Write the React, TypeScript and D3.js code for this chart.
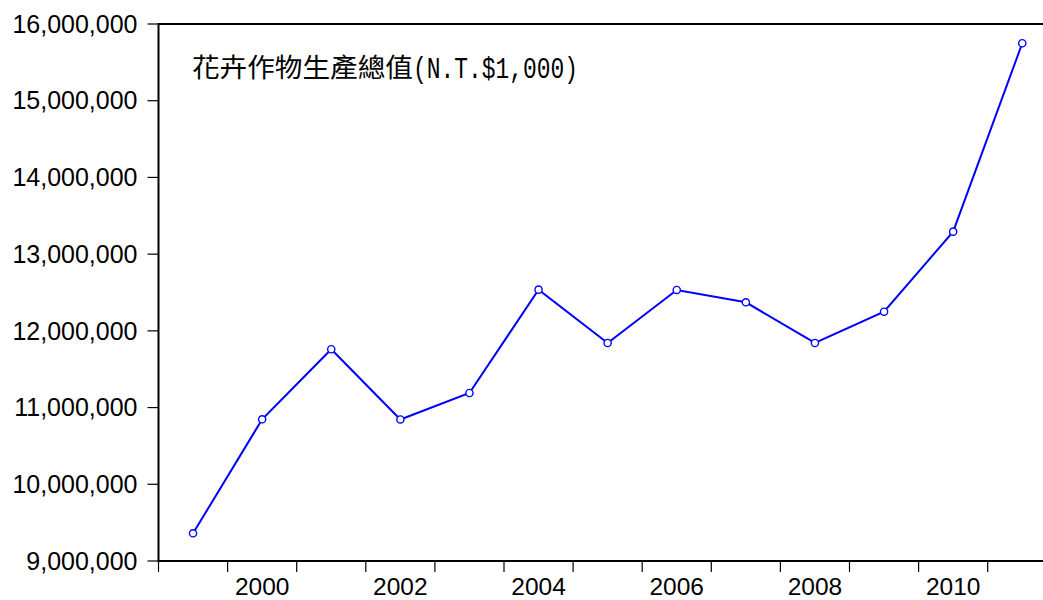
import React from 'react'
import * as d3 from 'd3'

const years = [1999, 2000, 2001, 2002, 2003, 2004, 2005, 2006, 2007, 2008, 2009, 2010, 2011]
const values = [
  9361000, 10847000, 11760000, 10845000, 11190000, 12537000, 11842000, 12533000, 12372000, 11842000,
  12250000, 13293000, 15749000,
]
const yTicks = [9000000, 10000000, 11000000, 12000000, 13000000, 14000000, 15000000, 16000000]
const xLabels = [2000, 2002, 2004, 2006, 2008, 2010]
const titleCjk = '花卉作物生產總值'
const titleLatin = '(N.T.$1,000)'

const W = 1043
const H = 600

export default function App() {
  const left = 158.5
  const top = 24
  const bottom = 561
  const yearW = 69.1

  const x = d3.scaleLinear().domain([1999, 2012]).range([left, left + 13 * yearW])
  const y = d3.scaleLinear().domain([9000000, 16000000]).range([bottom, top])
  const fmt = d3.format(',')

  const line = d3
    .line<number>()
    .x((_, i) => x(years[i] + 0.5))
    .y((d) => y(d))

  const boundaries = d3.range(1999, 2013)

  return (
    <svg
      width={W}
      height={H}
      style={{ position: 'absolute', left: 0, top: 0, background: '#fff' }}
    >
      <rect width={W} height={H} fill="#fff" />
      {/* frame */}
      <path
        d={`M${x(2012)},${top}H${left}V${bottom}H${x(2012)}`}
        fill="none"
        stroke="#000"
        strokeWidth={2}
      />
      {/* y axis */}
      {yTicks.map((t) => (
        <g key={t}>
          <line x1={left - 11} x2={left} y1={y(t)} y2={y(t)} stroke="#000" strokeWidth={1.2} />
          <text
            x={left - 21}
            y={y(t)}
            dy="0.35em"
            textAnchor="end"
            fontFamily="Liberation Sans, Arial, sans-serif"
            fontSize={25}
            fill="#000"
          >
            {fmt(t)}
          </text>
        </g>
      ))}
      {/* x axis */}
      {boundaries.map((b) => (
        <line key={b} x1={x(b)} x2={x(b)} y1={bottom} y2={bottom + 11} stroke="#000" strokeWidth={1.2} />
      ))}
      {xLabels.map((yr) => (
        <text
          key={yr}
          x={x(yr + 0.5)}
          y={595}
          textAnchor="middle"
          fontFamily="Liberation Sans, Arial, sans-serif"
          fontSize={24.5}
          fill="#000"
        >
          {yr}
        </text>
      ))}
      {/* title */}
      <text x={192} y={77} fontFamily="Noto Sans CJK TC, sans-serif" fontSize={26} fill="#000" textLength={221} lengthAdjust="spacingAndGlyphs">
        {titleCjk}
      </text>
      <text
        x={413}
        y={78}
        fontFamily="Liberation Mono, monospace"
        fontSize={30}
        fill="#000"
        textLength={165}
        lengthAdjust="spacingAndGlyphs"
      >
        {titleLatin}
      </text>
      {/* series */}
      <path d={line(values) ?? ''} fill="none" stroke="#0000ff" strokeWidth={2} />
      {values.map((v, i) => (
        <circle key={i} cx={x(years[i] + 0.5)} cy={y(v)} r={3.6} fill="#fff" stroke="#0000ff" strokeWidth={1.4} />
      ))}
    </svg>
  )
}
